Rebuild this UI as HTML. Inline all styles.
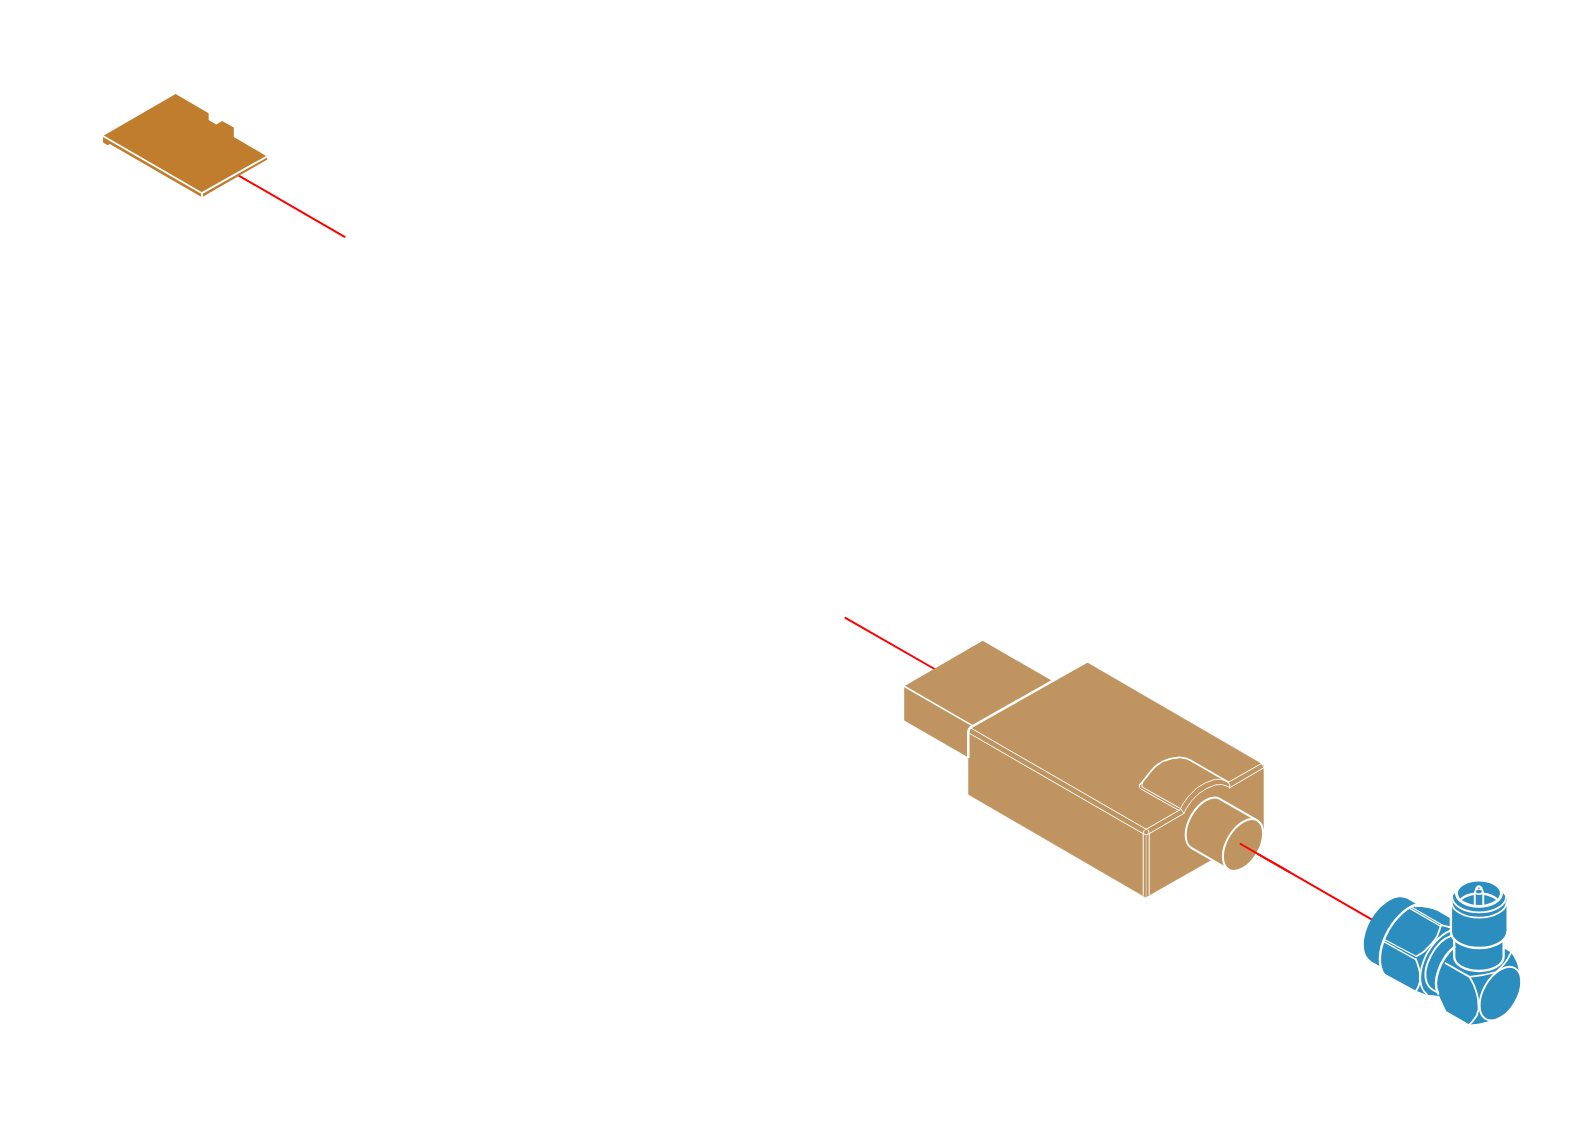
<!DOCTYPE html>
<html><head><meta charset="utf-8"><title>Exploded view</title>
<style>html,body{margin:0;padding:0;background:#fff;font-family:"Liberation Sans",sans-serif}svg{display:block}</style>
</head><body>
<svg width="1588" height="1123" viewBox="0 0 1588 1123">
<rect width="1588" height="1123" fill="#fff"/>
<g stroke="#FF0000" stroke-width="2.0" fill="none" stroke-linecap="round">
<line x1="228" y1="169.4" x2="344.6" y2="236.8"/>
<line x1="845.4" y1="617.9" x2="945" y2="675.0"/>
<line x1="1239.8" y1="843.5" x2="1375" y2="921.3"/>
</g>
<polygon points="175.60,94.10 208.65,113.20 208.65,119.90 216.20,124.40 222.20,120.90 233.80,127.60 233.80,137.00 267.00,156.50 267.00,159.80 201.95,197.20 109.80,143.93 107.60,145.20 103.00,142.50 103.00,136.00" fill="#C07D2E"/>
<path d="M103 136 L201.95 193.2 L267 156.5 M201.95 193.2 L201.95 198.2" stroke="#fff" stroke-width="1.9" fill="none"/>
<polygon points="982.70,640.80 1052.00,680.80 1052.00,760.00 968.00,757.20 904.20,720.50 904.20,686.20" fill="#BF9460"/>
<path d="M904.2 686.2 L972 725.34" stroke="#fff" stroke-width="1.6" fill="none"/>
<polygon points="1086.40,662.30 1263.40,765.00 1263.40,830.30 1145.60,897.20 968.60,794.50 968.60,729.20" fill="#BF9460" stroke="#BF9460" stroke-width="0.6" stroke-linejoin="round"/>
<path d="M1089.4 660.07 L971.5000000000001 726.75 Q968.3000000000001 728.6 968.3000000000001 732.6 L968.3000000000001 758" stroke="#fff" stroke-width="2.5" fill="none" stroke-linejoin="round"/>
<path d="M969.6 727.3 L1146.2 829.2 M969.0 733.1 L1143.2 833.7" stroke="#fff" stroke-width="1.0" fill="none" stroke-linecap="round" stroke-linejoin="round"/>
<path d="M1143.2 833.7 L1143.2 895.3 M1149.2 833.7 L1149.2 894.9" stroke="#fff" stroke-width="1.0" fill="none" stroke-linecap="round" stroke-linejoin="round"/>
<path d="M1146.2 836 L1146.2 897" stroke="#fff" stroke-width="1.0" fill="none" stroke-linecap="round" stroke-linejoin="round" opacity="0.55"/>
<path d="M1143.2 833.7 Q1143.4 829.6 1146.2 829.2 Q1149 829.6 1149.2 833.7 M1143.2 833.7 Q1146.2 836.4 1149.2 833.7" stroke="#fff" stroke-width="1.0" fill="none" stroke-linecap="round" stroke-linejoin="round"/>
<path d="M1146.2 829.2 L1180.4 809.6 M1149.2 833.7 L1183.9 813.4" stroke="#fff" stroke-width="1.0" fill="none" stroke-linecap="round" stroke-linejoin="round"/>
<path d="M1228.5 782.2 L1261.3 763.6 M1229.6 787.8 L1263.6 767.9" stroke="#fff" stroke-width="1.0" fill="none" stroke-linecap="round" stroke-linejoin="round"/>
<path d="M1261.3 763.6 Q1263.6 764.0 1263.6 767.9" stroke="#fff" stroke-width="1.0" fill="none" stroke-linecap="round" stroke-linejoin="round"/>
<path d="M1139.40 785.20C1141.40 782.90 1141.20 783.37 1145.40 778.30C1149.60 773.23 1147.57 774.77 1152.00 770.00C1156.43 765.23 1153.50 767.47 1158.70 764.00C1163.90 760.53 1161.67 761.67 1167.60 759.60C1173.53 757.53 1171.30 758.37 1176.50 757.80C1181.70 757.23 1178.73 757.17 1183.20 757.90C1187.67 758.63 1187.67 759.30 1189.90 760.00 L1228.5 782.2" stroke="#fff" stroke-width="1.7" fill="none" stroke-linejoin="round"/>
<path d="M1139.3 785.4 Q1138.6 787.8 1140.5 788.7 L1178.8 810.4 M1143.6 780.5 Q1141.2 785.6 1142.2 787.0 L1180.6 808.6 L1183.9 813.3" stroke="#fff" stroke-width="1.0" fill="none" stroke-linecap="round" stroke-linejoin="round"/>
<path d="M1180.60 808.60C1182.20 805.90 1181.27 806.10 1185.40 800.50C1189.53 794.90 1187.93 796.73 1193.00 791.80C1198.07 786.87 1194.67 789.33 1200.60 785.70C1206.53 782.07 1204.87 783.00 1210.80 780.90C1216.73 778.80 1214.17 779.63 1218.40 779.40C1222.63 779.17 1220.13 779.27 1223.50 780.20C1226.87 781.13 1226.83 781.53 1228.50 782.20" stroke="#fff" stroke-width="1.0" fill="none" stroke-linecap="round" stroke-linejoin="round"/>
<path d="M1183.90 813.30C1185.40 810.70 1184.53 810.97 1188.40 805.50C1192.27 800.03 1190.60 801.80 1195.50 796.90C1200.40 792.00 1198.00 794.17 1203.10 790.80C1208.20 787.43 1205.70 788.83 1210.80 786.80C1215.90 784.77 1213.67 785.13 1218.40 784.70C1223.13 784.27 1221.27 784.47 1225.00 785.50C1228.73 786.53 1228.07 787.03 1229.60 787.80" stroke="#fff" stroke-width="1.0" fill="none" stroke-linecap="round" stroke-linejoin="round"/>
<path d="M1228.5 782.2 Q1230.6 784.4 1229.6 787.8" stroke="#fff" stroke-width="1.0" fill="none" stroke-linecap="round" stroke-linejoin="round"/>
<path d="M1219.70 798.76 L1257.20 820.41 A28.4 16.40 120 0 1 1228.80 869.59 L1191.30 847.94 A28.4 16.40 120 0 1 1219.70 798.76Z" fill="#BF9460"/>
<path d="M1228.80 869.59 L1191.30 847.94 A28.4 16.40 120 0 1 1219.70 798.76 L1257.20 820.41" stroke="#fff" stroke-width="2.0" fill="none"/>
<ellipse cx="1243.0" cy="845.0" rx="28.4" ry="16.40" transform="rotate(120 1243.0 845.0)" fill="#BF9460" stroke="#fff" stroke-width="2.0"/>
<line x1="1239.8" y1="843.5" x2="1290" y2="872.4" stroke="#FF0000" stroke-width="2.0"/>
<ellipse cx="1389.20" cy="930.00" rx="35.95" ry="20.76" transform="rotate(120 1389.20 930.00)" fill="#2C8EBE"/>
<polygon points="1407.17,898.87 1416.27,904.12 1380.32,966.38 1371.23,961.13" fill="#2C8EBE"/>
<path d="M1415.5 907.3C1417.00 907.23 1416.83 907.00 1420.00 907.10C1423.17 907.20 1421.33 907.07 1425.00 907.60C1428.67 908.13 1427.07 907.73 1431.00 908.70C1434.93 909.67 1434.87 909.90 1436.80 910.50L1449.9 918 L1456 920 L1456 960 L1442 996 L1437.4 995.7 L1426.7 994.8 L1416 990.8 L1383.4 973.1L1383.20 973.34A42.40 24.48 120 0 1 1411.23 906.72Z" fill="#2C8EBE"/>
<path d="M1504.3 948.4 L1511 952.4C1512.50 954.93 1513.07 954.80 1515.50 960.00C1517.93 965.20 1517.37 965.33 1518.30 968.00L1519.18 972.65 L1520.41 975.85 L1521.04 979.60 L1521.04 983.77 L1520.41 988.24 L1519.18 992.87 L1517.37 997.52 L1515.05 1002.06 L1512.28 1006.34 L1509.16 1010.23 L1505.76 1013.61 L1502.21 1016.39 L1498.59 1018.47 L1495.04 1019.80 L1491.64 1020.34C1488.43 1021.19 1489.38 1021.51 1482.00 1022.90C1474.62 1024.29 1473.67 1023.97 1469.50 1024.50L1446.4 1011.2C1444.77 1007.80 1444.30 1007.07 1441.50 1001.00C1438.70 994.93 1439.17 995.67 1438.00 993.00L1437.66 992.54A33.00 19.05 120 0 1 1454.44 946.73Z" fill="#2C8EBE"/>
<rect x="1454.1" y="935" width="49.5" height="21.7" fill="#2C8EBE"/>
<ellipse cx="1478.85" cy="956.70" rx="24.75" ry="14.30" transform="rotate(0 1478.85 956.70)" fill="#2C8EBE"/>
<rect x="1451.65" y="898.5" width="54.85" height="33.2" fill="#2C8EBE"/>
<ellipse cx="1479.10" cy="931.70" rx="27.43" ry="15.80" transform="rotate(0 1479.10 931.70)" fill="#2C8EBE"/>
<polygon points="1451.65,899 1452.6,896.2 1455.2,892.8 1502.7,892.8 1505.4,896.2 1506.5,899" fill="#2C8EBE"/>
<ellipse cx="1478.95" cy="893.20" rx="23.30" ry="13.50" transform="rotate(0 1478.95 893.20)" fill="#2C8EBE"/>
<path d="M1384.22 974.86A42.40 24.48 120 0 1 1416.62 904.47" stroke="#fff" stroke-width="2.4" fill="none" stroke-linecap="round" stroke-linejoin="round"/>
<path d="M1411.7 907.2 L1441.8 924.7 M1410.6 908.9 L1440.5 926.2" stroke="#fff" stroke-width="1.26" fill="none" stroke-linecap="round" stroke-linejoin="round"/>
<path d="M1384.8 939.7 L1416.4 956.5 M1383.8 941.6 L1415.2 959.1" stroke="#fff" stroke-width="1.26" fill="none" stroke-linecap="round" stroke-linejoin="round"/>
<path d="M1440.90 925.60C1440.03 928.13 1439.93 929.07 1438.30 933.20C1436.67 937.33 1437.83 934.97 1436.00 938.00C1434.17 941.03 1435.80 938.80 1432.80 942.30C1429.80 945.80 1430.27 945.20 1427.00 948.50C1423.73 951.80 1426.37 949.67 1423.00 952.20C1419.63 954.73 1418.93 954.80 1416.90 956.10" stroke="#fff" stroke-width="1.8" fill="none" stroke-linecap="round" stroke-linejoin="round"/>
<path d="M1415.60 958.80C1416.63 961.77 1417.23 961.77 1418.70 967.70C1420.17 973.63 1419.87 970.97 1420.00 976.60C1420.13 982.23 1420.43 979.87 1419.10 984.60C1417.77 989.33 1417.03 988.73 1416.00 990.80" stroke="#fff" stroke-width="1.8" fill="none" stroke-linecap="round" stroke-linejoin="round"/>
<path d="M1441.5 925.2 L1450.3 927.4" stroke="#fff" stroke-width="1.8" fill="none" stroke-linecap="round" stroke-linejoin="round"/>
<path d="M1426.85 994.16A37.00 21.36 120 0 1 1450.37 930.65" stroke="#fff" stroke-width="1.8" fill="none" stroke-linecap="round" stroke-linejoin="round"/>
<path d="M1436.8 992.0 Q1429.5 989.0 1427.05 983.45L1427.05 983.45A30.40 17.55 120 0 1 1451.81 935.73" stroke="#fff" stroke-width="1.8" fill="none" stroke-linecap="round" stroke-linejoin="round"/>
<path d="M1438.13 993.57A33.00 19.05 120 0 1 1454.44 946.73" stroke="#fff" stroke-width="2.4" fill="none" stroke-linecap="round" stroke-linejoin="round"/>
<path d="M1445.5 963.3 L1469.5 976.9 Q1484 975.6 1496.3 972" stroke="#fff" stroke-width="1.8" fill="none" stroke-linecap="round" stroke-linejoin="round"/>
<path d="M1496.30 972.00C1499.03 969.17 1500.10 969.00 1504.50 963.50C1508.90 958.00 1507.23 959.50 1509.50 955.50C1511.77 951.50 1510.70 952.83 1511.30 951.50" stroke="#fff" stroke-width="1.8" fill="none" stroke-linecap="round" stroke-linejoin="round"/>
<path d="M1469.50 976.90C1471.60 981.33 1472.83 981.00 1475.80 990.20C1478.77 999.40 1477.80 997.07 1478.40 1004.50C1479.00 1011.93 1478.90 1007.77 1477.60 1012.50C1476.30 1017.23 1477.20 1014.70 1474.50 1018.70C1471.80 1022.70 1471.17 1022.57 1469.50 1024.50" stroke="#fff" stroke-width="1.8" fill="none" stroke-linecap="round" stroke-linejoin="round"/>
<ellipse cx="1500.40" cy="993.60" rx="29.30" ry="17.02" transform="rotate(120 1500.40 993.60)" stroke="#fff" stroke-width="1.92" fill="none" stroke-linecap="round" stroke-linejoin="round"/>
<path d="M1454.2 939.6 L1454.2 956.7 A24.7 14.3 0 0 0 1503.6 956.7 L1503.6 941" stroke="#fff" stroke-width="2.28" fill="none" stroke-linecap="round" stroke-linejoin="round"/>
<path d="M1450.9 899 L1450.9 931.7 A28.2 16.3 0 0 0 1507.3 931.7" stroke="#fff" stroke-width="2.4" fill="none" stroke-linecap="round" stroke-linejoin="round"/>
<path d="M1451.67 901.90 A27.43 15.80 0 0 0 1506.53 901.90" stroke="#fff" stroke-width="1.8" fill="none" stroke-linecap="round" stroke-linejoin="round"/>
<path d="M1452.20 896.90 A26.9 15.50 0 0 0 1506.00 896.90" stroke="#fff" stroke-width="1.8" fill="none" stroke-linecap="round" stroke-linejoin="round"/>
<ellipse cx="1478.95" cy="893.20" rx="22.50" ry="13.05" transform="rotate(0 1478.95 893.20)" stroke="#fff" stroke-width="2.9" fill="none" stroke-linecap="round" stroke-linejoin="round"/>
<clipPath id="cav"><ellipse cx="1478.95" cy="893.2" rx="21.1" ry="12.2"/></clipPath>
<g clip-path="url(#cav)"><path d="M1457.95 905.60 A21.0 12.10 0 0 1 1499.95 905.60" stroke="#fff" stroke-width="2.4" fill="none" stroke-linecap="round" stroke-linejoin="round"/></g>
<rect x="1474.7" y="893" width="8.5" height="11.6" fill="#2C8EBE"/>
<path d="M1474.75 904.3 L1474.75 893.2 L1476.6 887.6 Q1478.95 884.6 1481.3 887.6 L1483.25 893.2 L1483.25 904.3" stroke="#fff" stroke-width="1.92" fill="none" stroke-linecap="round" stroke-linejoin="round"/>
<path d="M1474.75 893.4 L1476.6 887.6 Q1478.95 884.6 1481.3 887.6 L1483.25 893.4 Q1478.95 896.4 1474.75 893.4Z" fill="#fff"/>
<ellipse cx="1478.90" cy="891.60" rx="2.90" ry="1.75" transform="rotate(0 1478.90 891.60)" fill="#2C8EBE"/>
<ellipse cx="1478.90" cy="888.10" rx="1.15" ry="0.60" transform="rotate(0 1478.90 888.10)" fill="#2C8EBE"/>
</svg>
</body></html>
